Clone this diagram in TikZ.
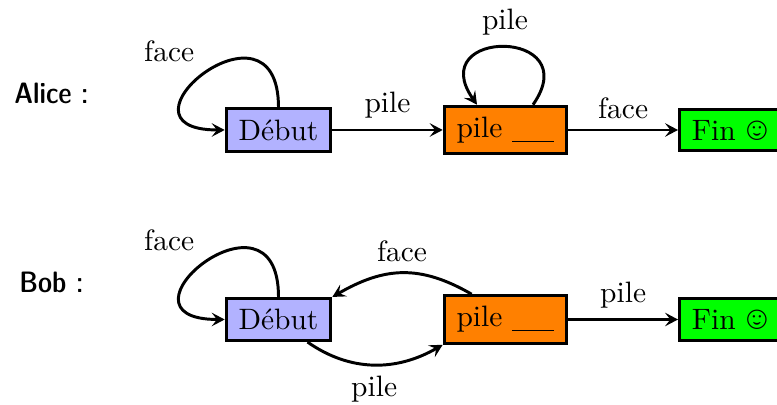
\documentclass[tikz,border=0pt]{standalone}
\usepackage{wasysym}
\usetikzlibrary{calc,arrows.meta}
\begin{document}
\begin{tikzpicture}[x=0.339pt,y=0.339pt,
  >={Stealth[length=4.4pt,width=4.6pt,inset=1.8pt]},
  every path/.style={line width=1pt},
  state/.style={draw,line width=1pt,inner xsep=4.2pt,inner ysep=3.6pt},
  deb/.style={state,fill=blue!30},
  pil/.style={state,fill=orange},
  fin/.style={state,fill=green,anchor=west},
  who/.style={font=\fontseries{sbc}\sffamily},
  lab/.style={inner sep=3.33pt}]
\useasboundingbox (0,0) rectangle (777,405);
% Alice
\node[who] (alice) at (51.5,312) {Alice :};
\node[deb] (d1) at (278.5,275) {Début};
\node[pil] (p1) at (505.5,275) {pile \underline{\hspace{14.3pt}}};
\node[fin] (f1) at (678,275) {Fin \smiley};
\draw[->] (d1.north) to[out=90,in=180,looseness=5.4] node[lab,above left] (lf1) {face} (d1.west);
\draw[->] (d1) -- node[lab,above] (lp1) {pile} (p1);
\draw[->] ($(p1.north)+(27.5,0)$) to[out=55,in=125,looseness=4.3] node[lab,above] (lp2) {pile} ($(p1.north)+(-28.5,0)$);
\draw[->] (p1) -- node[lab,above] (lf2) {face} (f1);
% Bob
\node[who] (bob) at (51.5,122.5) {Bob :};
\node[deb] (d2) at (278.5,85.5) {Début};
\node[pil] (p2) at (505.5,85.5) {pile \underline{\hspace{14.3pt}}};
\node[fin] (f2) at (678,85.5) {Fin \smiley};
\draw[->] (d2.north) to[out=90,in=180,looseness=5.4] node[lab,above left] (lf3) {face} (d2.west);
\draw[->] ($(p2.north west)+(29,0)$) to[out=150,in=30,looseness=1.1] node[lab,above] (lf4) {face} (d2.north east);
\draw[->] ($(d2.south)+(29,0)$) to[out=-35,in=-150] node[lab,below] (lp3) {pile} (p2.south west);
\draw[->] (p2) -- node[lab,above] (lp4) {pile} (f2);
\end{tikzpicture}
\end{document}
